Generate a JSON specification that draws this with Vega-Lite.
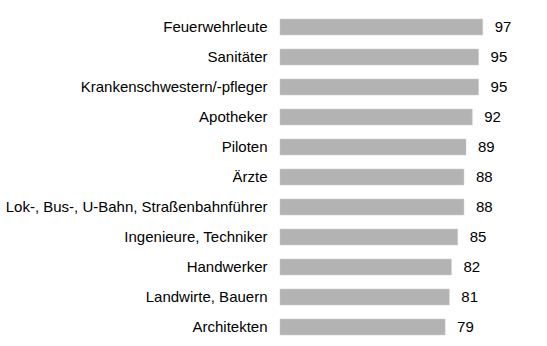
{
  "$schema": "https://vega.github.io/schema/vega-lite/v6.json",
  "autosize": "none",
  "width": 209,
  "height": 330,
  "padding": {"left": 280, "top": 12, "right": 58, "bottom": 4},
  "background": "white",
  "config": {"view": {"stroke": null}, "font": "Liberation Sans"},
  "data": {"values": [
    {"job": "Feuerwehrleute", "value": 97},
    {"job": "Sanitäter", "value": 95},
    {"job": "Krankenschwestern/-pfleger", "value": 95},
    {"job": "Apotheker", "value": 92},
    {"job": "Piloten", "value": 89},
    {"job": "Ärzte", "value": 88},
    {"job": "Lok-, Bus-, U-Bahn, Straßenbahnführer", "value": 88},
    {"job": "Ingenieure, Techniker", "value": 85},
    {"job": "Handwerker", "value": 82},
    {"job": "Landwirte, Bauern", "value": 81},
    {"job": "Architekten", "value": 79}
  ]},
  "encoding": {
    "y": {"field": "job", "type": "nominal", "sort": null,
      "scale": {"paddingInner": 0.47, "paddingOuter": 0.235},
      "axis": {"title": null, "domain": false, "ticks": false, "labelPadding": 13, "labelFontSize": 15, "labelColor": "#000000", "labelFont": "Liberation Sans", "labelLimit": 300}},
    "x": {"field": "value", "type": "quantitative", "scale": {"domain": [0, 100]}, "axis": null}
  },
  "layer": [
    {"mark": {"type": "bar", "color": "#b3b3b3", "stroke": "#c8c8c8", "strokeWidth": 0.5}},
    {"mark": {"type": "text", "align": "left", "dx": 12, "fontSize": 15, "color": "#000000", "font": "Liberation Sans"},
     "encoding": {"text": {"field": "value", "type": "quantitative"}}}
  ]
}
